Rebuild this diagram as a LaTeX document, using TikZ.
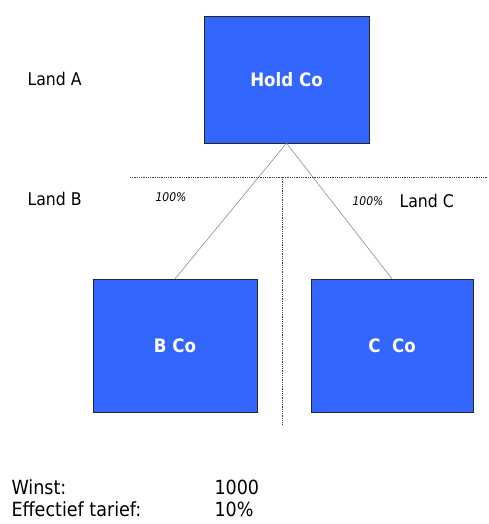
\documentclass[tikz,border=0pt]{standalone}
\usepackage{fontspec}
\setmainfont{DejaVu Sans Condensed}
\usetikzlibrary{positioning}
\definecolor{coblue}{RGB}{51,102,255}

\begin{document}
\begin{tikzpicture}[
                x=1pt, y=-1pt,
                Co/.style = {rectangle, draw=black!85, fill=coblue, text=white,
                             font=\bfseries\fontsize{18.5}{22}\selectfont,
                             minimum width=164pt, minimum height=133pt, inner sep=0pt},
                land/.style = {anchor=west, font=\fontsize{17.5}{21}\selectfont},
                sum/.style = {anchor=west, font=\fontsize{19.5}{23}\selectfont},
                pct/.style = {font=\itshape\fontsize{12}{14}\selectfont},
                border/.style = {densely dotted, black!75, line width=0.8pt},
                link/.style = {black!45, line width=0.6pt}
                    ]
                \useasboundingbox (0,0) rectangle (488,524);
                % companies
                \node[Co, minimum width=165pt, minimum height=127pt] (hold) at (286.5,79.5) {Hold Co};
                \node[Co] (b) at (175,345.5) {B Co};
                \node[Co, minimum width=162pt] (c) at (392,345.5) {C\ \ Co};
                \draw[link] (hold.south) -- (b.north);
                \draw[link] (hold.south) -- (c.north);
                % borders
                \coordinate (sepL) at (130,177);
                \coordinate (sepR) at (488,177);
                \coordinate (sepT) at (282,177);
                \coordinate (sepB) at (282,425);
                \draw[border] (sepL) -- (sepR);
                \draw[border] (sepT) -- (sepB);
                % labels
                \node[land] (landA) at (24,79) {Land A};
                \node[land] (landB) at (24,199) {Land B};
                \node[land] (landC) at (396,201) {Land C};
                \node[pct] (pctB) at (171,197) {100\%};
                \node[pct] (pctC) at (368,201) {100\%};
                \node[sum] (winst) at (8,487) {Winst:};
                \node[sum] (winstV) at (211,487) {1000};
                \node[sum] (tarief) at (8,509) {Effectief tarief:};
                \node[sum] (tariefV) at (211,509) {10\%};
            \end{tikzpicture}
\end{document}
